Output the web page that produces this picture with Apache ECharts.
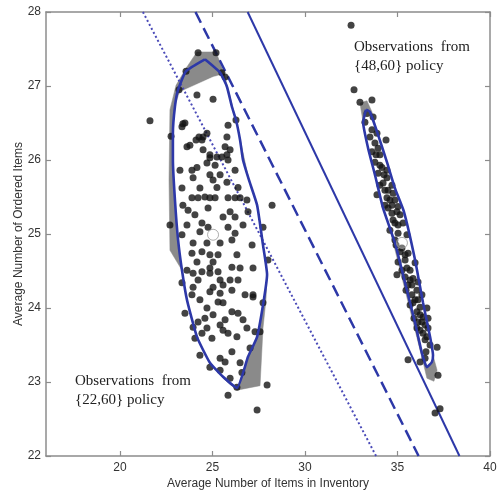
<!DOCTYPE html>
<html><head><meta charset="utf-8">
<script src="https://cdn.jsdelivr.net/npm/echarts@6/dist/echarts.min.js"></script>
<style>html,body{margin:0;padding:0;background:#fff}#c{width:501px;height:490px}</style>
</head><body><div id="c"></div>
<script>
const xTicks = [20, 25, 30, 35, 40];
const yTicks = [22, 23, 24, 25, 26, 27, 28];
const xName = 'Average Number of Items in Inventory';
const yName = 'Average Number of Ordered Items';
const noteRight = ['Observations  from', '{48,60} policy'];
const noteLeft = ['Observations  from', '{22,60} policy'];

// observations, {22,60} policy
const pts2260 = [
[24.22,27.45],[25.19,27.45],[23.57,27.20],[25.51,27.18],[25.68,27.12],[23.19,26.95],[24.16,26.88],[25.03,26.82],[26.27,26.54],[22.76,26.32],
[23.51,26.50],[23.35,26.45],[25.84,26.47],[24.70,26.36],[24.49,26.31],[24.43,26.27],[24.11,26.27],[23.62,26.18],[23.78,26.20],[25.68,26.18],
[25.95,26.14],[24.49,26.14],[24.86,26.07],[25.24,26.04],[25.78,26.07],[21.62,26.53],[23.40,26.49],[24.27,26.31],[25.78,26.31],
[24.86,26.03],[25.51,26.04],[25.84,26.00],[24.70,25.96],[25.14,25.93],[24.16,25.90],[23.24,25.86],[23.89,25.86],[26.22,25.86],[24.86,25.80],
[25.41,25.80],[23.95,25.76],[25.03,25.73],[25.78,25.70],[23.35,25.62],[24.32,25.62],[25.24,25.63],[26.38,25.63],[23.89,25.49],[24.22,25.49],
[24.59,25.50],[24.86,25.49],[25.14,25.49],[25.84,25.49],[26.22,25.49],[26.49,25.49],[26.86,25.46],[23.40,25.39],[24.76,25.35],[23.68,25.32],
[24.05,25.26],[25.95,25.30],[26.22,25.23],[25.57,25.23],[26.92,25.30],[28.22,25.39],[22.70,25.12],[23.62,25.12],[24.43,25.15],[24.76,25.09],
[25.84,25.09],[26.65,25.12],[27.73,25.09],[23.35,24.99],[24.32,25.03],[26.22,25.01],[23.95,24.88],[24.70,24.88],[25.41,24.88],[26.05,24.92],
[27.14,24.85],[23.89,24.74],[24.43,24.76],[24.86,24.72],[25.30,24.72],[26.32,24.72],[28.00,24.65],[24.16,24.62],[25.03,24.62],[24.86,24.54],
[26.05,24.55],[26.49,24.54],[23.62,24.51],[24.43,24.49],[25.30,24.49],
[23.95,24.47],[24.86,24.47],[24.22,24.38],[25.41,24.38],[25.95,24.38],[26.38,24.38],[23.35,24.34],[23.95,24.28],[25.03,24.28],[25.57,24.31],
[24.86,24.22],[25.41,24.20],[26.05,24.24],[26.76,24.18],[27.19,24.18],[23.89,24.18],[24.32,24.11],[25.30,24.08],[25.57,24.07],[27.73,24.07],
[24.70,24.00],[26.05,23.95],[26.38,23.93],[23.51,23.93],[25.03,23.91],[24.59,23.86],[24.22,23.81],[26.65,23.84],[25.68,23.84],[25.41,23.77],
[23.95,23.74],[24.70,23.73],[26.86,23.73],[25.57,23.70],[27.57,23.68],[24.43,23.66],[25.84,23.66],[26.32,23.61],[24.05,23.59],[24.97,23.59],
[27.03,23.46],[26.05,23.41],[24.32,23.36],[25.41,23.32],[26.49,23.26],[25.68,23.27],[24.86,23.20],[25.41,23.16],[26.59,23.13],[25.95,23.05],
[26.32,22.93],[25.84,22.82],[27.95,22.96],[27.41,22.62],[27.19,24.54],[27.19,24.15],[27.30,23.68]
];

// observations, {48,60} policy
const pts4860 = [
[32.49,27.82],[32.65,26.95],[32.97,26.78],[33.62,26.81],[33.35,26.63],[33.68,26.58],[33.24,26.51],[33.62,26.41],[33.51,26.31],[33.89,26.36],
[33.78,26.23],[33.95,26.16],[33.62,26.11],[34.05,26.07],[33.78,25.97],[34.16,25.90],[34.43,25.86],[33.95,25.82],[34.43,25.76],[34.22,25.69],
[34.70,25.66],[34.49,25.59],[33.89,25.53],[34.76,25.55],[34.43,25.49],[34.86,25.46],[34.70,25.39],[35.03,25.37],[34.49,25.35],[34.97,25.30],
[34.38,26.27],[34.32,25.59],[34.59,25.46],[34.32,25.39],[34.05,25.93],[34.27,25.80],[34.05,25.66],[33.84,26.07],
[34.70,25.28],[35.14,25.26],[34.86,25.15],[35.30,25.15],[34.59,25.05],[35.03,25.01],[35.51,24.99],[34.86,24.92],[35.14,24.76],[35.57,24.74],
[35.41,24.65],[35.95,24.61],[34.97,24.45],[35.68,24.51],[35.41,24.42],[35.84,24.40],[36.11,24.35],[35.57,24.31],[36.05,24.24],[35.78,24.18],
[36.32,24.18],[35.84,24.07],[36.22,24.01],[36.59,24.00],[36.05,23.95],[36.38,23.88],[36.65,23.86],[36.11,23.81],[36.49,23.77],[36.05,23.73],
[36.65,23.73],[36.38,23.66],[36.59,23.61],[37.14,23.47],[35.57,23.30],[36.22,23.27],[36.49,23.32],[37.19,23.09],[37.03,22.58],[37.30,22.64],
[34.76,25.19],[35.03,25.12],[34.92,24.85],[35.24,24.81],[35.41,24.72],[35.03,24.62],[35.51,24.54],[35.24,24.51],[35.68,24.38],[35.78,24.31],
[35.46,24.24],[35.95,24.11],[35.68,24.04],[36.11,24.11],[36.22,23.91],[35.89,23.86],[36.32,23.81],[36.22,23.70],[36.49,23.57],[36.76,23.50],
[36.54,23.41]
];

// confidence ellipse outlines
const ellipse2260 = [
[24.59,27.36],[25.41,27.18],[25.78,26.99],[26.05,26.72],[26.27,26.54],[26.49,26.27],[26.65,26.0],[26.97,25.73],[27.41,25.39],[27.73,24.85],
[27.95,24.45],[27.73,24.04],[27.41,23.61],[26.92,23.34],[26.32,22.92],[25.57,23.07],[24.86,23.26],[24.16,23.61],[23.62,24.11],[23.35,24.51],
[23.14,24.92],[22.97,25.46],[22.86,26.0],[22.86,26.36],[22.97,26.72],[23.14,26.95],[23.57,27.20],[24.59,27.36]
];
const inner2260 = [
[25.78,26.99],[26.05,26.72],[26.27,26.54],[26.49,26.27],[26.65,26.0],[26.97,25.73],[27.41,25.39],[27.73,24.85],[27.95,24.45],[27.73,24.04],
[27.41,23.61],[26.92,23.34],[26.32,22.92],[25.57,23.07],[24.86,23.26],[24.16,23.61],[23.62,24.11],[23.35,24.51],[23.14,24.92],[22.97,25.46],
[22.86,26.0],[22.86,26.36],[22.97,26.72],[23.24,26.92],[25.03,27.12],[25.45,27.15]
];
const hull2260 = [
[24.16,27.46],[25.19,27.46],[25.62,27.18],[26.27,26.54],[26.97,25.73],[27.73,24.85],[27.95,24.45],[27.89,24.11],[27.73,23.73],[27.57,22.95],
[26.32,22.89],[25.57,23.05],[24.16,23.59],[23.35,24.51],[22.70,24.78],[22.65,25.73],[22.70,26.68],[23.03,27.01],[23.57,27.24]
];
const ellipse4860 = [
[33.30,26.68],[33.51,26.65],[33.95,26.34],[34.43,25.97],[34.86,25.62],[35.35,25.30],[35.95,24.65],[36.38,24.07],[36.76,23.61],[36.92,23.36],
[36.86,23.27],[36.59,23.20],[36.32,23.39],[35.95,23.80],[35.41,24.34],[34.86,24.88],[34.22,25.35],[33.78,25.80],[33.41,26.16],[33.14,26.51],
[33.30,26.68]
];
const hull4860 = [
[32.97,26.77],[33.35,26.80],[33.62,26.65],[36.92,23.36],[37.14,23.16],[36.97,23.01],[36.59,23.05],[36.43,23.22],[33.14,26.51]
];

const lineDotted = [[21.24,28],[33.84,22]];
const lineDashed = [[24.08,28],[36.14,22]];
const lineSolid = [[26.90,28],[38.35,22]];
const centers = [[25.03,24.99],[35.24,24.88]];

const BLUE = '#2d38a8';
const GRID = '#8c8c8c';

function polySeries(poly, fill, z) {
  return {
    type: 'custom', coordinateSystem: 'cartesian2d', silent: true, z: z,
    data: [poly[0]],
    renderItem: function (params, api) {
      return { type: 'polygon', shape: { points: poly.map(function (p) { return api.coord(p); }) },
               style: { fill: fill, stroke: fill, lineWidth: 0.5 } };
    }
  };
}
function lineSeries(data, style, z, smooth) {
  return { type: 'line', data: data, showSymbol: false, symbol: 'none', silent: true, z: z,
           smooth: smooth || false, lineStyle: style, animation: false };
}

const chart = echarts.init(document.getElementById('c'), null, { renderer: 'canvas' });
const FONT = '"Liberation Sans", Arial, sans-serif';
const axisLabelStyle = { color: '#333', fontSize: 12, fontFamily: FONT };
chart.setOption({
  animation: false,
  backgroundColor: '#fff',
  grid: { left: 46, right: 11, top: 12, bottom: 34, containLabel: false, outerBoundsMode: 'none' },
  xAxis: [{
    type: 'value', min: 16, max: 40, position: 'bottom',
    name: xName, nameLocation: 'middle', nameGap: 22, nameMoveOverlap: false,
    nameTextStyle: { color: '#333', fontSize: 12, fontFamily: FONT, verticalAlign: 'top' },
    axisLine: { show: true, onZero: false, lineStyle: { color: GRID, width: 1.5 } },
    axisTick: { show: true, inside: true, length: 5, customValues: xTicks, lineStyle: { color: GRID, width: 1.2 } },
    axisLabel: Object.assign({ margin: 6, customValues: xTicks }, axisLabelStyle),
    splitLine: { show: false }
  }, {
    type: 'value', min: 16, max: 40, position: 'top',
    axisLine: { show: true, onZero: false, lineStyle: { color: GRID, width: 1.5 } },
    axisTick: { show: true, inside: true, length: 5, customValues: xTicks, lineStyle: { color: GRID, width: 1.2 } },
    axisLabel: { show: false }, splitLine: { show: false }
  }],
  yAxis: [{
    type: 'value', min: 22, max: 28, interval: 1, position: 'left',
    name: yName, nameLocation: 'middle', nameGap: 21, nameRotate: 90, nameMoveOverlap: false,
    nameTextStyle: { color: '#333', fontSize: 12, fontFamily: FONT },
    axisLine: { show: true, onZero: false, lineStyle: { color: GRID, width: 1.5 } },
    axisTick: { show: true, inside: true, length: 5, lineStyle: { color: GRID, width: 1.2 } },
    axisLabel: Object.assign({ margin: 5 }, axisLabelStyle),
    splitLine: { show: false }
  }, {
    type: 'value', min: 22, max: 28, interval: 1, position: 'right',
    axisLine: { show: true, onZero: false, lineStyle: { color: GRID, width: 1.5 } },
    axisTick: { show: true, inside: true, length: 5, lineStyle: { color: GRID, width: 1.2 } },
    axisLabel: { show: false }, splitLine: { show: false }
  }],
  series: [
    polySeries(hull2260, '#8a8a8a', 1),
    polySeries(hull4860, '#8a8a8a', 1),
    polySeries(inner2260, '#ffffff', 2),
    polySeries(ellipse4860, '#ffffff', 2),
    lineSeries(lineDotted, { color: '#4a4ab8', width: 2, type: [2, 2.5] }, 3),
    lineSeries(lineDashed, { color: BLUE, width: 2.5, type: [12, 6] }, 3),
    lineSeries(lineSolid, { color: BLUE, width: 2 }, 3),
    { type: 'scatter', data: pts2260, symbol: 'circle', symbolSize: 7, z: 4, silent: true,
      itemStyle: { color: '#141414' } },
    { type: 'scatter', data: pts4860, symbol: 'circle', symbolSize: 7, z: 4, silent: true,
      itemStyle: { color: '#141414' } },
    lineSeries(ellipse2260, { color: BLUE, width: 2.6 }, 5, 0.15),
    lineSeries(ellipse4860, { color: BLUE, width: 2.6 }, 5, 0.15),
    { type: 'scatter', data: centers, symbol: 'circle', symbolSize: 11, z: 6, silent: true,
      itemStyle: { color: 'rgba(255,255,255,0.35)', borderColor: '#9a9a9a', borderWidth: 1 } }
  ],
  graphic: [
    { type: 'text', left: 354, top: 40, silent: true, style: { text: noteRight[0], font: '15px "Liberation Serif", "Times New Roman", serif', fill: '#222' } },
    { type: 'text', left: 354, top: 59, silent: true, style: { text: noteRight[1], font: '15px "Liberation Serif", "Times New Roman", serif', fill: '#222' } },
    { type: 'text', left: 75, top: 374, silent: true, style: { text: noteLeft[0], font: '15px "Liberation Serif", "Times New Roman", serif', fill: '#222' } },
    { type: 'text', left: 75, top: 393, silent: true, style: { text: noteLeft[1], font: '15px "Liberation Serif", "Times New Roman", serif', fill: '#222' } }
  ]
});
</script>
</body></html>
